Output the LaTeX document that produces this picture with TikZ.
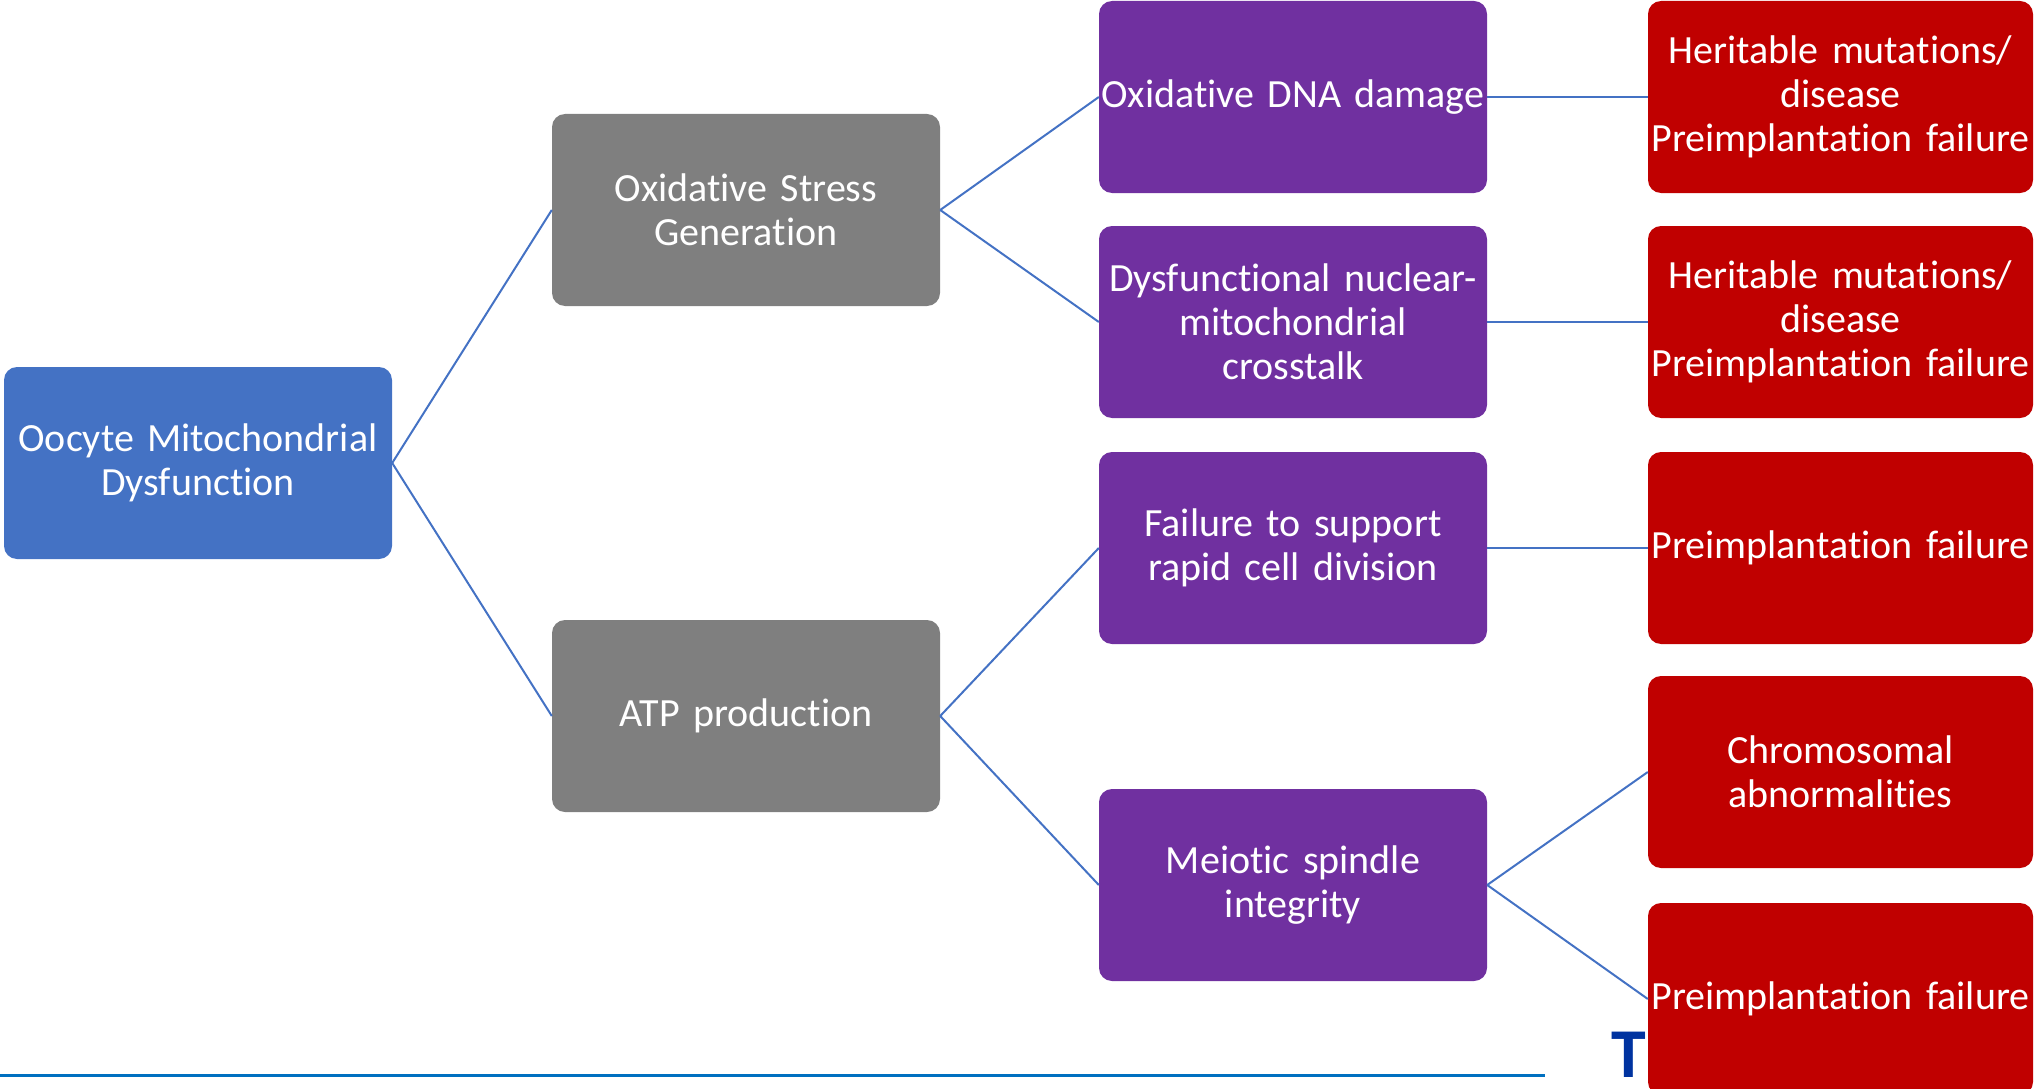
\documentclass[tikz,border=0pt]{standalone}
\usepackage{fontspec}
\setmainfont{Carlito}[Ligatures={NoRequired,NoCommon,NoContextual}]
\definecolor{cblue}{HTML}{4472C4}
\definecolor{cgray}{HTML}{7F7F7F}
\definecolor{cpurple}{HTML}{7030A0}
\definecolor{cred}{HTML}{C00000}
\definecolor{cline}{HTML}{4472C4}
\definecolor{cbar}{HTML}{0070C0}
\definecolor{clogo}{HTML}{0033A0}
\newcommand\boxfont{\fontsize{40}{44}\selectfont}
\newcommand\Ti{t\kern0pt i}
\tikzset{
  box/.style={rounded corners=13pt, minimum width=388pt, minimum height=192pt,
    text width=384pt, align=center, inner sep=0pt, text=white, font=\boxfont},
  bluebox/.style={box, fill=cblue},
  graybox/.style={box, fill=cgray},
  purplebox/.style={box, fill=cpurple},
  redbox/.style={box, fill=cred, minimum width=385pt, text width=383pt},
  link/.style={draw=cline, line width=2pt},
}
\begin{document}
\begin{tikzpicture}[x=1pt,y=-1pt]
\useasboundingbox (0,0) rectangle (2035,1089);
% bottom bar and logo fragment
\coordinate (barL) at (0,1075);
\coordinate (barR) at (1545,1075);
\draw[cbar, line width=3pt] (barL) -- (barR);
\node[anchor=north, inner sep=0pt, text=clogo, font=\fontsize{70}{70}\selectfont\bfseries] (logo) at (1629,1032) {T};
% nodes
\node[bluebox] (root) at (198,463) {Oocyte Mitochondrial\\Dysfunc\Ti{}on};
\node[graybox] (g1) at (746,210) {Oxida\Ti{}ve Stress\\Genera\Ti{}on};
\node[graybox] (g2) at (746,716) {ATP produc\Ti{}on};
\node[purplebox] (p1) at (1293,97) {Oxida\Ti{}ve DNA damage};
\node[purplebox] (p2) at (1293,322) {Dysfunc\Ti{}onal nuclear-\\mitochondrial\\crosstalk};
\node[purplebox] (p3) at (1293,548) {Failure to support\\rapid cell division};
\node[purplebox] (p4) at (1293,885) {Meio\Ti{}c spindle\\integrity};
\node[redbox] (r1) at (1840.5,97) {Heritable muta\Ti{}ons/\\disease\\Preimplanta\Ti{}on failure};
\node[redbox] (r2) at (1840.5,322) {Heritable muta\Ti{}ons/\\disease\\Preimplanta\Ti{}on failure};
\node[redbox] (r3) at (1840.5,548) {Preimplanta\Ti{}on failure};
\node[redbox] (r4) at (1840.5,772) {Chromosomal\\abnormali\Ti{}es};
\node[redbox] (r5) at (1840.5,999) {Preimplanta\Ti{}on failure};
% connectors
\draw[link] (root.east) -- (g1.west);
\draw[link] (root.east) -- (g2.west);
\draw[link] (g1.east) -- (p1.west);
\draw[link] (g1.east) -- (p2.west);
\draw[link] (g2.east) -- (p3.west);
\draw[link] (g2.east) -- (p4.west);
\draw[link] (p1.east) -- (r1.west);
\draw[link] (p2.east) -- (r2.west);
\draw[link] (p3.east) -- (r3.west);
\draw[link] (p4.east) -- (r4.west);
\draw[link] (p4.east) -- (r5.west);
\end{tikzpicture}
\end{document}
